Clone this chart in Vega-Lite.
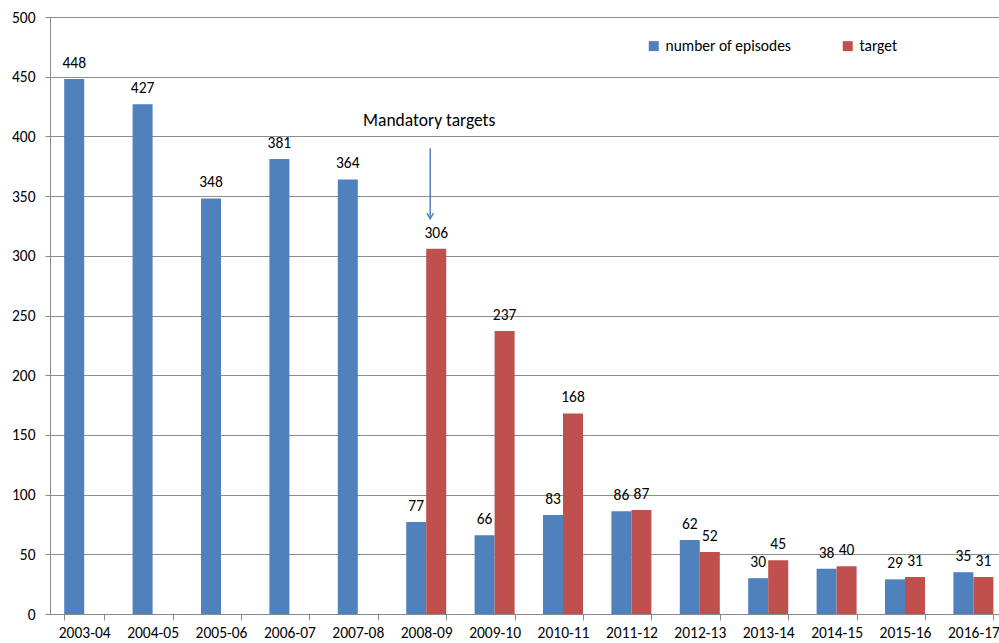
{
  "$schema": "https://vega.github.io/schema/vega-lite/v6.json",
  "autosize": {"type": "none"},
  "width": 949,
  "height": 597,
  "padding": {"left": 50, "top": 17, "right": 0, "bottom": 29},
  "background": "white",
  "config": {
    "font": "Carlito, Lato, sans-serif",
    "view": {"stroke": null},
    "axis": {"labelFont": "Carlito, Lato, sans-serif", "labelFontSize": 15.5, "labelColor": "#000000"}
  },
  "datasets": {
    "bars": [
      {"year": "2003-04", "series": "number of episodes", "value": 448},
      {"year": "2004-05", "series": "number of episodes", "value": 427},
      {"year": "2005-06", "series": "number of episodes", "value": 348},
      {"year": "2006-07", "series": "number of episodes", "value": 381},
      {"year": "2007-08", "series": "number of episodes", "value": 364},
      {"year": "2008-09", "series": "number of episodes", "value": 77},
      {"year": "2009-10", "series": "number of episodes", "value": 66},
      {"year": "2010-11", "series": "number of episodes", "value": 83},
      {"year": "2011-12", "series": "number of episodes", "value": 86},
      {"year": "2012-13", "series": "number of episodes", "value": 62},
      {"year": "2013-14", "series": "number of episodes", "value": 30},
      {"year": "2014-15", "series": "number of episodes", "value": 38},
      {"year": "2015-16", "series": "number of episodes", "value": 29},
      {"year": "2016-17", "series": "number of episodes", "value": 35},
      {"year": "2008-09", "series": "target", "value": 306},
      {"year": "2009-10", "series": "target", "value": 237},
      {"year": "2010-11", "series": "target", "value": 168},
      {"year": "2011-12", "series": "target", "value": 87},
      {"year": "2012-13", "series": "target", "value": 52},
      {"year": "2013-14", "series": "target", "value": 45},
      {"year": "2014-15", "series": "target", "value": 40},
      {"year": "2015-16", "series": "target", "value": 31},
      {"year": "2016-17", "series": "target", "value": 31}
    ],
    "note": [
      {"year": "2008-09", "label": "Mandatory targets", "textY": 413, "arrowTop": 390, "arrowTip": 331}
    ]
  },
  "layer": [
    {
      "data": {"name": "bars"},
      "mark": {"type": "bar"},
      "encoding": {
        "x": {
          "field": "year", "type": "nominal", "sort": null,
          "scale": {"range": [0, 957.6], "paddingInner": 0.415, "paddingOuter": 0.2075},
          "axis": {
            "title": null, "labelAngle": 0, "tickBand": "extent",
            "domainColor": "#898989", "tickColor": "#898989", "tickSize": 6,
            "labelPadding": 5, "grid": false
          }
        },
        "xOffset": {"field": "series", "type": "nominal", "scale": {"domain": ["number of episodes", "target"], "paddingInner": 0, "paddingOuter": 0}},
        "y": {
          "field": "value", "type": "quantitative",
          "scale": {"domain": [0, 500], "nice": false},
          "axis": {
            "title": null, "values": [0, 50, 100, 150, 200, 250, 300, 350, 400, 450, 500],
            "grid": true, "gridColor": "#8c8c8c", "gridWidth": 1,
            "domainColor": "#898989", "tickColor": "#898989", "tickSize": 5,
            "labelPadding": 10
          }
        },
        "color": {
          "field": "series", "type": "nominal",
          "scale": {"domain": ["number of episodes", "target"], "range": ["#4F81BD", "#C0504D"]},
          "legend": {
            "title": null, "orient": "none", "direction": "horizontal",
            "legendX": 596, "legendY": 21, "padding": 0,
            "symbolType": "square", "symbolSize": 100, "symbolStrokeWidth": 0,
            "labelFontSize": 15.5, "labelColor": "#000000", "labelOffset": 4,
            "columnPadding": 49, "labelFont": "Carlito, Lato, sans-serif"
          }
        }
      }
    },
    {
      "data": {"name": "bars"},
      "mark": {"type": "text", "baseline": "alphabetic", "dy": -11, "fontSize": 15.5, "color": "#000000"},
      "encoding": {
        "x": {"field": "year", "type": "nominal", "sort": null},
        "xOffset": {"field": "series", "type": "nominal"},
        "y": {"field": "value", "type": "quantitative"},
        "text": {"field": "value", "type": "quantitative"}
      }
    },
    {
      "data": {"name": "note"},
      "mark": {"type": "text", "baseline": "middle", "fontSize": 17.5, "color": "#000000", "xOffset": 3},
      "encoding": {
        "x": {"field": "year", "type": "nominal", "sort": null},
        "y": {"field": "textY", "type": "quantitative"},
        "text": {"field": "label"}
      }
    },
    {
      "data": {"name": "note"},
      "mark": {"type": "rule", "color": "#4F81BD", "strokeWidth": 1.5, "xOffset": 4},
      "encoding": {
        "x": {"field": "year", "type": "nominal", "sort": null},
        "y": {"field": "arrowTop", "type": "quantitative"},
        "y2": {"field": "arrowTip"}
      }
    },
    {
      "data": {"name": "note"},
      "mark": {"type": "point", "shape": "M-0.8,-1.4L0,0L0.8,-1.4", "filled": false, "stroke": "#4F81BD", "strokeWidth": 1.5, "size": 64, "xOffset": 4, "opacity": 1},
      "encoding": {
        "x": {"field": "year", "type": "nominal", "sort": null},
        "y": {"field": "arrowTip", "type": "quantitative"}
      }
    }
  ]
}
